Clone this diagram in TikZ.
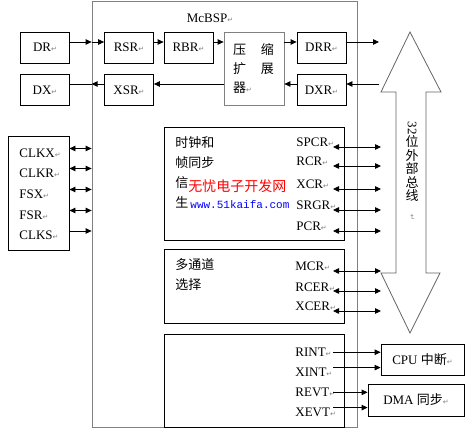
\documentclass[tikz,border=0pt]{standalone}
\usepackage{fontspec}
\setmainfont{Liberation Serif}
\newfontfamily\cjk{Noto Sans CJK SC}
\newfontfamily\monofnt{Liberation Mono}
\newfontfamily\symfnt{DejaVu Sans}
\usepackage{xcolor}
\usetikzlibrary{arrows.meta}
\usetikzlibrary{positioning}

\definecolor{framegray}{RGB}{128,128,128}
\definecolor{busgray}{RGB}{100,100,100}
\definecolor{wmred}{RGB}{255,0,0}
\definecolor{wmblue}{RGB}{0,0,255}
\newcommand\enterm{{\symfnt\fontsize{7}{7}\selectfont\color{gray}↵}}

\begin{document}
\begin{tikzpicture}[x=1pt, y=-1pt, line width=0.8pt,
    >={Triangle[length=6pt,width=5.5pt]},
    font=\fontsize{13}{19}\selectfont,
    reg/.style={draw, inner sep=0pt, minimum width=49pt, minimum height=31pt},
    blk/.style={draw, inner sep=0pt},
    lab/.style={inner sep=0pt, anchor=base west},
    txt/.style={inner sep=0pt, anchor=west, align=left},
    bus/.style={<->}]
  \useasboundingbox (0,0) rectangle (472,433);
  % McBSP frame
  \node[draw=framegray, minimum width=265pt, minimum height=426pt] (mc) at (224.5,214) {};
  \node (mct) at (210,18) {McBSP\enterm};
  % data path
  \node[reg] (DR) at (45,47.5) {DR\enterm};
  \node[reg] (DX) at (45,90) {DX\enterm};
  \node[reg] (RSR) at (129,47.5) {RSR\enterm};
  \node[reg] (RBR) at (188.5,47.5) {RBR\enterm};
  \node[reg] (XSR) at (129,90) {XSR\enterm};
  \node[reg, draw=framegray, minimum width=60pt, minimum height=73pt,
        text width=42pt, align=left] (cmp) at (254,68.5)
        {\cjk 压\hspace{15pt}缩\\扩\hspace{15pt}展\\器\enterm};
  \node[reg] (DRR) at (321.5,47.5) {DRR\enterm};
  \node[reg] (DXR) at (321.5,90) {DXR\enterm};
  \coordinate (rowR) at (0,42);
  \coordinate (rowX) at (0,84);
  \coordinate (dout) at (379,42);
  \coordinate (din) at (379,84);
  \draw[->] (DR.east|-rowR) -- (mc.west|-rowR);
  \draw[->] (mc.west|-rowR) -- (RSR.west|-rowR);
  \draw[->] (RSR.east|-rowR) -- (RBR.west|-rowR);
  \draw[->] (RBR.east|-rowR) -- (cmp.west|-rowR);
  \draw[->] (cmp.east|-rowR) -- (DRR.west|-rowR);
  \draw[->] (DRR.east|-rowR) -- (dout);
  \draw[->] (din) -- (DXR.east|-rowX);
  \draw[->] (DXR.west|-rowX) -- (cmp.east|-rowX);
  \draw[->] (cmp.west|-rowX) -- (XSR.east|-rowX);
  \draw[->] (XSR.west|-rowX) -- (mc.west|-rowX);
  \draw (mc.west|-rowX) -- (DX.east|-rowX);
  % clock pins
  \node[blk, minimum width=61pt, minimum height=114pt] (clk) at (38.5,193) {};
  \node[lab] (CLKX) at (19,157.5) {CLKX\enterm};
  \node[lab] (CLKR) at (19,177.5) {CLKR\enterm};
  \node[lab] (FSX) at (19,198.5) {FSX\enterm};
  \node[lab] (FSR) at (19,219.5) {FSR\enterm};
  \node[lab] (CLKS) at (19,240) {CLKS\enterm};
  \draw[bus] (clk.east|-CLKX.north) -- (mc.west|-CLKX.north);
  \draw[bus] (clk.east|-CLKR.north) -- (mc.west|-CLKR.north);
  \draw[bus] (clk.east|-FSX.north) -- (mc.west|-FSX.north);
  \draw[bus] (clk.east|-FSR.north) -- (mc.west|-FSR.north);
  \draw[->] (clk.east|-CLKS.north) -- (mc.west|-CLKS.north);
  % inner blocks
  \node[blk, minimum width=180pt, minimum height=113pt] (clkgen) at (254,183.5) {};
  \node[blk, minimum width=180pt, minimum height=74pt] (mch) at (254,286) {};
  \node[blk, minimum width=180pt, minimum height=93pt] (evt) at (254,380.5) {};
  \node[txt, font=\fontsize{13}{20}\selectfont\cjk] (clkt) at (175,172.5)
        {时钟和\\帧同步\\信\\生};
  \node[txt, font=\fontsize{13}{20}\selectfont\cjk] (mcht) at (175,275)
        {多通道\\选择};
  \coordinate (regL) at (333,0);
  \coordinate (busL) at (381,0);
  \node[lab] (SPCR) at (296,147) {SPCR\enterm};
  \node[lab] (RCR) at (296,166) {RCR\enterm};
  \node[lab] (XCR) at (296,189) {XCR\enterm};
  \node[lab] (SRGR) at (296,210) {SRGR\enterm};
  \node[lab] (PCR) at (296,231) {PCR\enterm};
  \node[lab] (MCR) at (295,271) {MCR\enterm};
  \node[lab] (RCER) at (295,291) {RCER\enterm};
  \node[lab] (XCER) at (295,311) {XCER\enterm};
  \draw[bus] (regL|-SPCR.base) -- (busL|-SPCR.base);
  \draw[bus] (regL|-RCR.base) -- (busL|-RCR.base);
  \draw[bus] (regL|-XCR.base) -- (busL|-XCR.base);
  \draw[bus] (regL|-SRGR.base) -- (busL|-SRGR.base);
  \draw[bus] (regL|-PCR.base) -- (busL|-PCR.base);
  \draw[bus] (regL|-MCR.base) -- (busL|-MCR.base);
  \draw[bus] (regL|-RCER.base) -- (busL|-RCER.base);
  \draw[bus] (regL|-XCER.base) -- (busL|-XCER.base);
  % interrupts and events
  \node[lab] (RINT) at (295,356.5) {RINT\enterm};
  \node[lab] (XINT) at (295,376.5) {XINT\enterm};
  \node[lab] (REVT) at (295,396.5) {REVT\enterm};
  \node[lab] (XEVT) at (295,416.5) {XEVT\enterm};
  \node[blk, minimum width=83pt, minimum height=31pt] (cpu) at (422.5,359.5) {CPU {\cjk 中断}\enterm};
  \node[blk, minimum width=96pt, minimum height=32pt] (dma) at (416,400) {DMA {\cjk 同步}\enterm};
  \draw[->] (regL|-RINT.east) -- (cpu.west|-RINT.east);
  \draw[->] (regL|-XINT.north) -- (cpu.west|-XINT.north);
  \draw[->] (regL|-REVT.east) -- (dma.west|-REVT.east);
  \draw[->] (regL|-XEVT.north) -- (dma.west|-XEVT.north);
  % 32-bit bus
  \draw[busgray] (410,32) -- (441,92) -- (426,92) -- (426,273) -- (440,273)
    -- (410,333) -- (381,273) -- (396,273) -- (396,92) -- (381,92) -- cycle;
  \node[inner sep=0pt, align=center, font=\fontsize{13}{13.5}\selectfont\cjk] (bust) at (412,171)
        {\rotatebox{-90}{\rmfamily 32}\\位\\外\\部\\总\\线\\\rotatebox{-90}{\enterm}};
  % watermark
  \node[inner sep=0pt, anchor=west, text=wmred, font=\fontsize{14}{14}\selectfont\cjk] (wm) at (188,186) {无忧电子开发网};
  \node[inner sep=0pt, anchor=west, text=wmblue, font=\fontsize{11}{11}\selectfont\monofnt] (url) at (190,205) {www.51kaifa.com};
\end{tikzpicture}
\end{document}
